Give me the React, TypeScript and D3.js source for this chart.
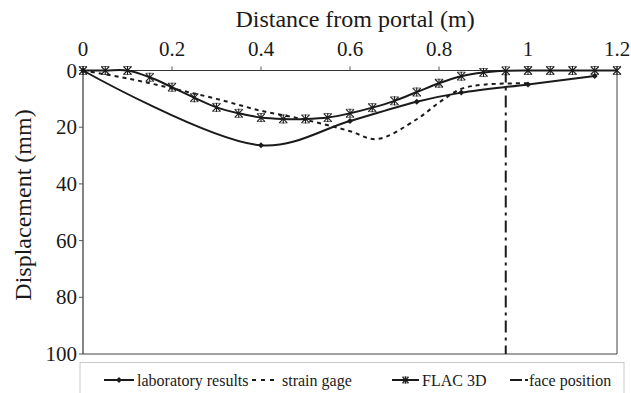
import React from "react";
import * as d3 from "d3";

const xTicks = [0, 0.2, 0.4, 0.6, 0.8, 1, 1.2];
const yTicks = [0, 20, 40, 60, 80, 100];

const labX = [0, 0.4, 0.6, 0.75, 0.85, 1.0, 1.15];
const labY = [0, 26.4, 17.8, 11.0, 7.8, 4.9, 1.9];

const gageX = [0, 0.1, 0.2, 0.3, 0.4, 0.5, 0.6, 0.66, 0.75, 0.8, 0.85, 0.9, 1.0];
const gageY = [0, 2.8, 6.3, 10, 14.2, 17.4, 21.4, 24.2, 17.2, 11.3, 6.5, 5.0, 4.5];

const flacX = [0, 0.05, 0.1, 0.15, 0.2, 0.25, 0.3, 0.35, 0.4, 0.45, 0.5, 0.55, 0.6, 0.65, 0.7, 0.75, 0.8, 0.85, 0.9, 0.95, 1.0, 1.05, 1.1, 1.15, 1.2];
const flacY = [0, 0, 0, 2.4, 5.9, 9.6, 13, 15.1, 16.6, 17.1, 17.1, 16.6, 15.1, 13.1, 10.7, 7.6, 4.5, 2.0, 0.7, 0.1, 0, 0, 0, 0, 0];

const facePosition = 0.95;

const seriesNames = ["laboratory results", "strain gage", "FLAC 3D", "face position"];

const W = 631;
const H = 393;
const margin = { left: 83, right: 14, top: 70.5, bottom: 39 };

const FONT = "Liberation Serif, DejaVu Serif, serif";
const INK = "#1a1a1a";

function Asterisk({ x, y, s = 4 }: { x: number; y: number; s?: number }) {
  return (
    <g stroke={INK} strokeWidth={1.1}>
      <line x1={x - s} y1={y - s} x2={x + s} y2={y + s} />
      <line x1={x - s} y1={y + s} x2={x + s} y2={y - s} />
      <line x1={x} y1={y - s - 0.5} x2={x} y2={y + s + 0.5} />
      <line x1={x - s} y1={y - s} x2={x + s} y2={y - s} strokeWidth={0.6} />
      <line x1={x - s} y1={y + s} x2={x + s} y2={y + s} strokeWidth={0.6} />
    </g>
  );
}

function Diamond({ x, y, s = 3 }: { x: number; y: number; s?: number }) {
  return <path d={`M${x},${y - s}L${x + s},${y}L${x},${y + s}L${x - s},${y}Z`} fill={INK} />;
}

export default function App() {
  const x = d3.scaleLinear().domain([0, 1.2]).range([margin.left, W - margin.right]);
  const y = d3.scaleLinear().domain([0, 100]).range([margin.top, H - margin.bottom]);

  const line = d3
    .line<[number, number]>()
    .x((d) => x(d[0]))
    .y((d) => y(d[1]))
    .curve(d3.curveCatmullRom.alpha(0.5));

  const lab = labX.map((v, i) => [v, labY[i]] as [number, number]);
  const gage = gageX.map((v, i) => [v, gageY[i]] as [number, number]);
  const flac = flacX.map((v, i) => [v, flacY[i]] as [number, number]);

  const x0 = x(0);
  const x1 = x(1.2);
  const y0 = y(0);
  const y1 = y(100);

  const legY = 380;
  const ts: React.CSSProperties = { fontFamily: FONT };

  return (
    <svg
      width={W}
      height={H}
      style={{ position: "absolute", left: 0, top: 0, background: "#fff", fontFamily: FONT }}
    >
      <rect x={0} y={0} width={W} height={H} fill="#fff" />
      {/* plot border */}
      <line x1={x1} y1={y0} x2={x1} y2={y1} stroke="#444" strokeWidth={1} />
      <line x1={x0} y1={y1} x2={x1} y2={y1} stroke="#444" strokeWidth={1} />
      {/* axes */}
      <line x1={x0} y1={y0} x2={x1} y2={y0} stroke="#333" strokeWidth={1.2} />
      <line x1={x0} y1={y0} x2={x0} y2={y1} stroke="#333" strokeWidth={1.2} />
      {xTicks.map((t) => (
        <g key={"xt" + t}>
          <line x1={x(t)} y1={y0} x2={x(t)} y2={y0 - 4} stroke="#555" strokeWidth={1} />
          <text x={x(t)} y={56} textAnchor="middle" fontSize={21} fill={INK} style={ts}>
            {String(t)}
          </text>
        </g>
      ))}
      {yTicks.map((t) => (
        <g key={"yt" + t}>
          <line x1={x0} y1={y(t)} x2={x0 - 4} y2={y(t)} stroke="#555" strokeWidth={1} />
          <text x={77} y={y(t) + 7} textAnchor="end" fontSize={21} fill={INK} style={ts}>
            {String(t)}
          </text>
        </g>
      ))}
      <text x={355} y={27} textAnchor="middle" fontSize={24} fill={INK} style={ts}>
        Distance from portal (m)
      </text>
      <text
        transform={`translate(31,${205}) rotate(-90)`}
        textAnchor="middle"
        fontSize={24}
        fill={INK}
        style={ts}
      >
        Displacement (mm)
      </text>

      {/* face position */}
      <line
        x1={x(facePosition)}
        y1={y0}
        x2={x(facePosition)}
        y2={y1}
        stroke={INK}
        strokeWidth={2}
        strokeDasharray="12,5,3,5"
      />

      {/* series */}
      <path d={line(gage) || ""} fill="none" stroke={INK} strokeWidth={2} strokeDasharray="4,4" />
      <path d={line(lab) || ""} fill="none" stroke={INK} strokeWidth={2} />
      <path d={line(flac) || ""} fill="none" stroke={INK} strokeWidth={2} />
      {lab.map((d, i) => (
        <Diamond key={"ld" + i} x={x(d[0])} y={y(d[1])} />
      ))}
      {flac.map((d, i) => (
        <Asterisk key={"fa" + i} x={x(d[0])} y={y(d[1])} />
      ))}

      {/* legend */}
      <rect x={80} y={362.5} width={544} height={40} fill="#fff" stroke="#c8c8c8" strokeWidth={1} />
      <line x1={104} y1={legY} x2={134} y2={legY} stroke={INK} strokeWidth={2} />
      <Diamond x={119} y={legY} />
      <text x={137} y={386} fontSize={16} fill={INK} style={ts}>{seriesNames[0]}</text>

      <line x1={252} y1={legY} x2={279} y2={legY} stroke={INK} strokeWidth={2} strokeDasharray="4,5" />
      <text x={282} y={386} fontSize={16} fill={INK} style={ts}>{seriesNames[1]}</text>

      <line x1={392} y1={legY} x2={419} y2={legY} stroke={INK} strokeWidth={2} />
      <Asterisk x={405.5} y={legY} s={3} />
      <text x={422} y={386} fontSize={16} fill={INK} style={ts}>{seriesNames[2]}</text>

      <line x1={510} y1={legY} x2={528} y2={legY} stroke={INK} strokeWidth={2} strokeDasharray="12,3,3,5" />
      <text x={529} y={386} fontSize={16} fill={INK} style={ts}>{seriesNames[3]}</text>
    </svg>
  );
}
